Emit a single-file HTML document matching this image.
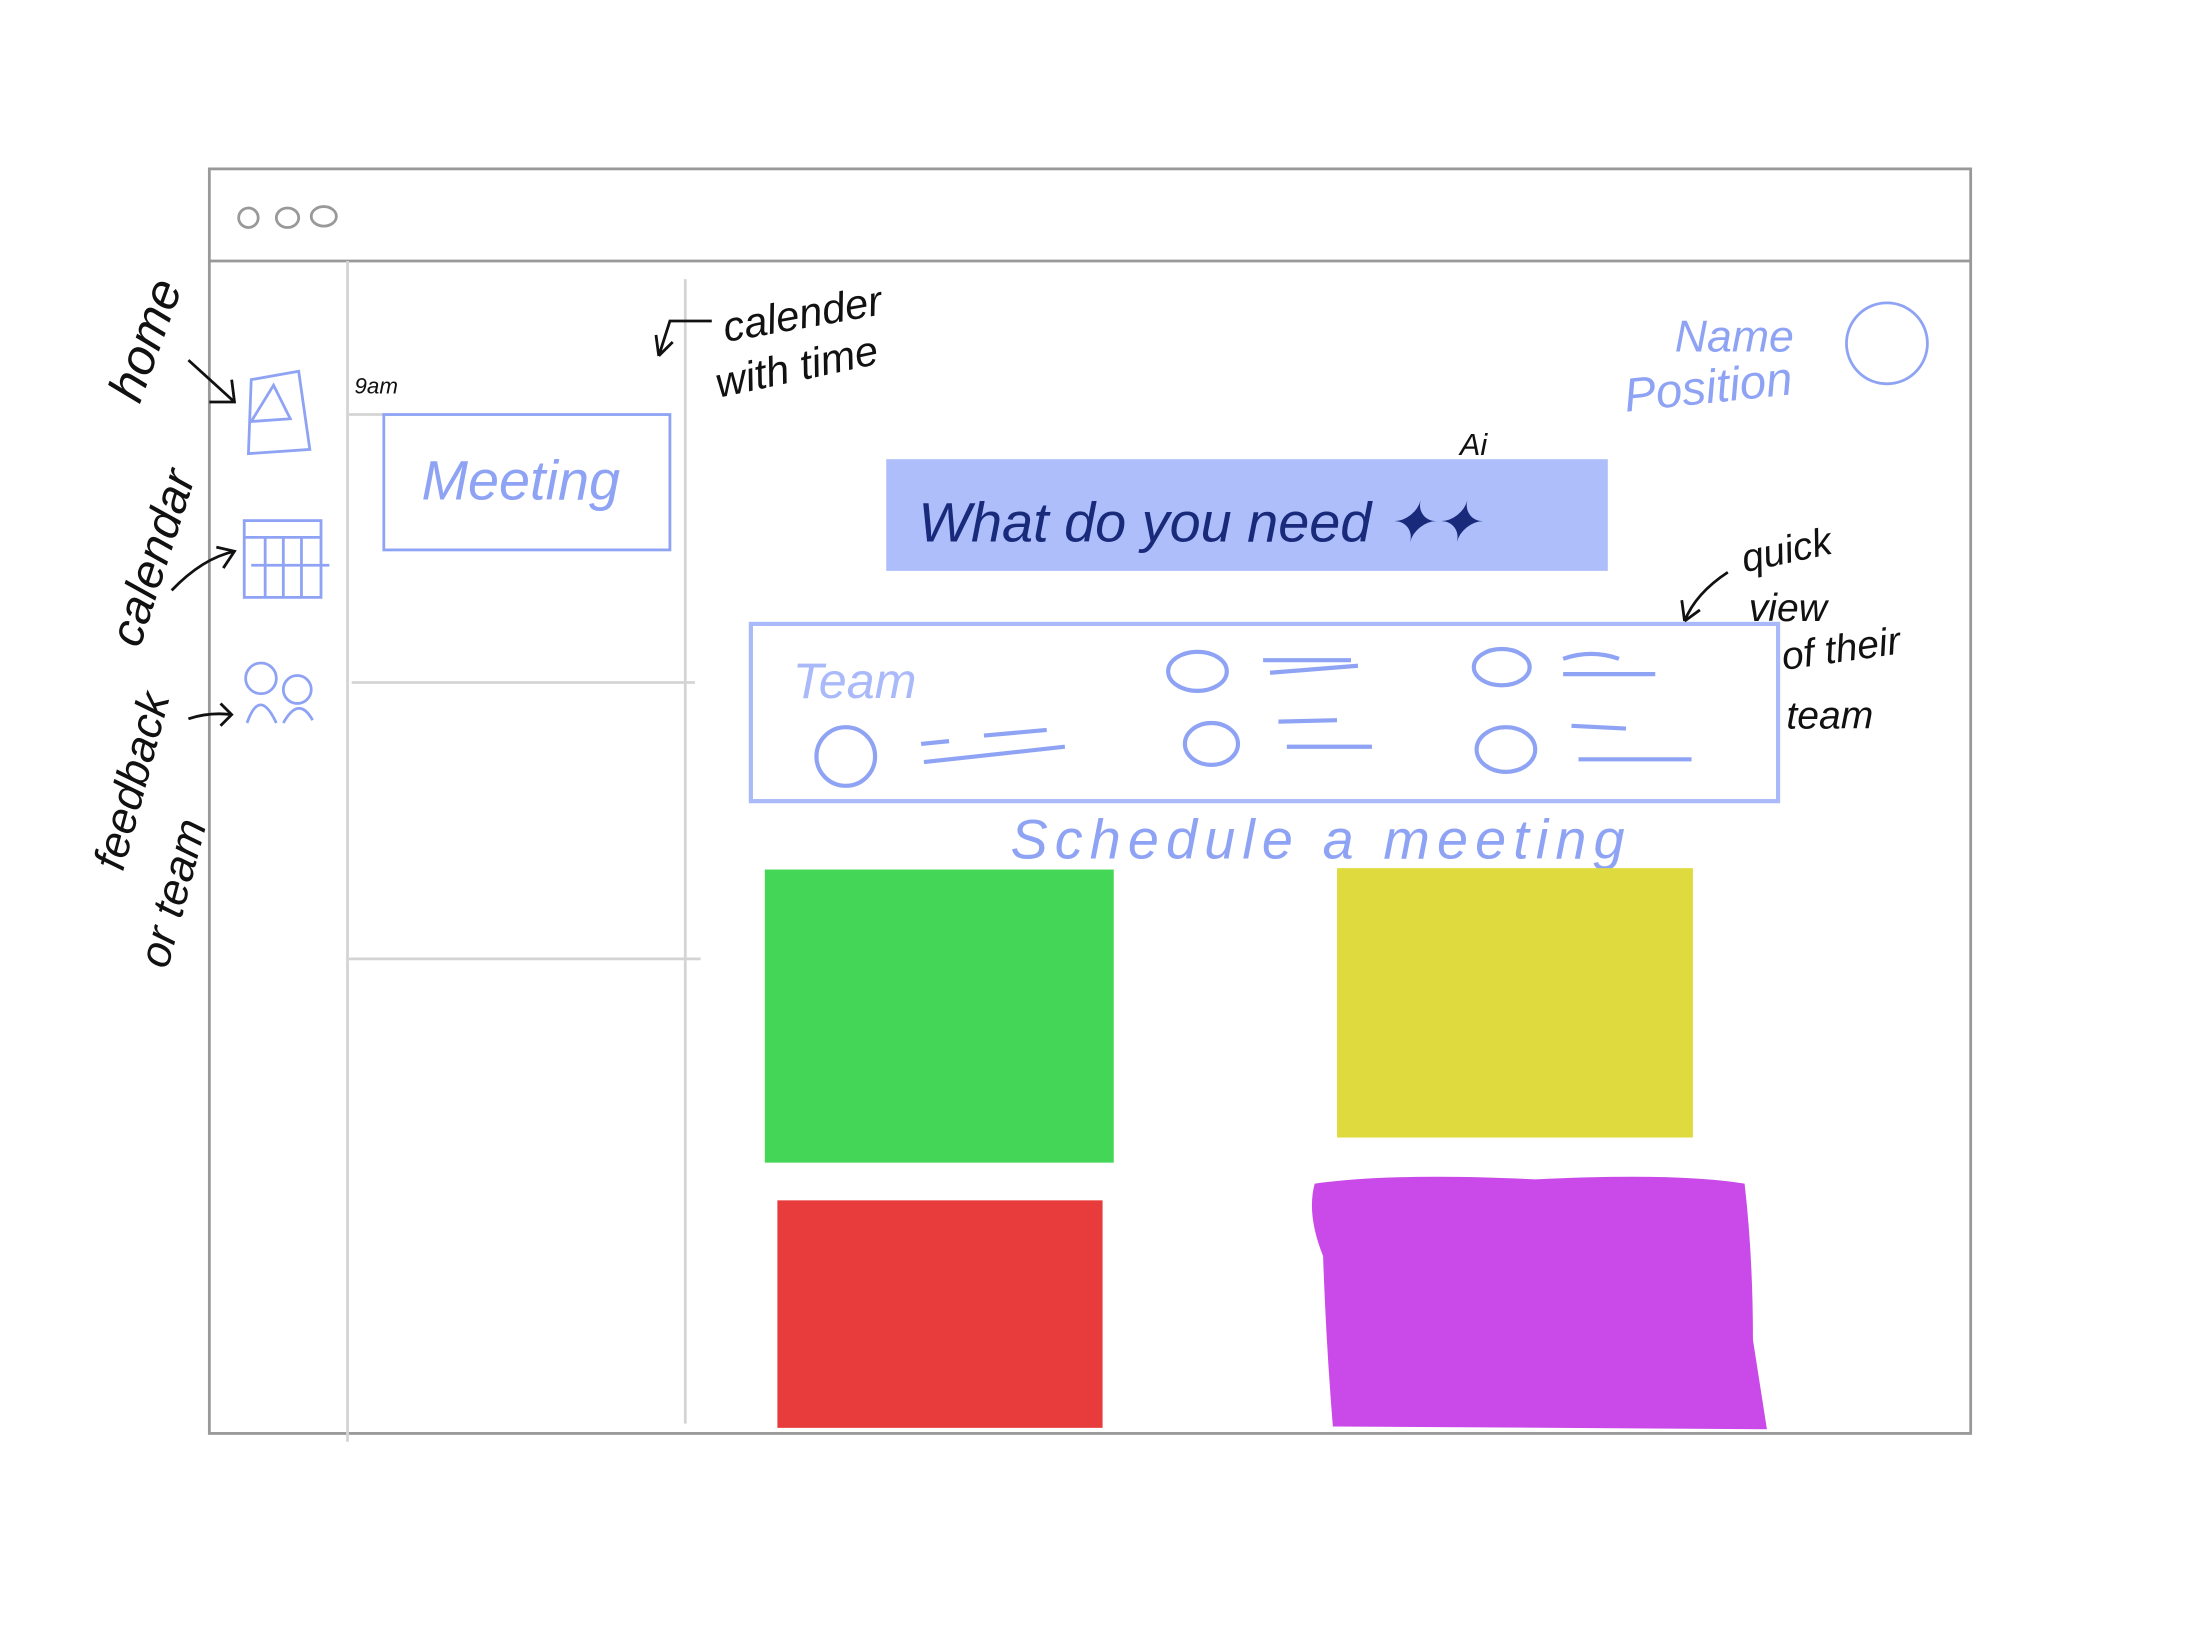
<!DOCTYPE html>
<html><head><meta charset="utf-8"><style>
html,body{margin:0;padding:0;background:#fff;}
svg{display:block}
text{font-family:"Liberation Sans",sans-serif;font-style:italic}
</style></head><body>
<svg width="2187" height="1640" viewBox="0 0 1567 1175" preserveAspectRatio="none" xmlns="http://www.w3.org/2000/svg">
<rect width="1600" height="1200" fill="#fff"/>
<rect x="150" y="121" width="1262" height="906" fill="none" stroke="#999" stroke-width="2"/>
<line x1="150" y1="187" x2="1412" y2="187" stroke="#999" stroke-width="2"/>
<circle cx="178" cy="156" r="7" fill="none" stroke="#999" stroke-width="2"/>
<ellipse cx="206" cy="156" rx="8" ry="7" fill="none" stroke="#999" stroke-width="2"/>
<ellipse cx="232" cy="155" rx="9" ry="7" fill="none" stroke="#999" stroke-width="2"/>
<line x1="249" y1="187" x2="249" y2="1033" stroke="#d4d4d4" stroke-width="2"/>
<line x1="491" y1="200" x2="491" y2="1020" stroke="#d4d4d4" stroke-width="2"/>
<line x1="252" y1="489" x2="498" y2="489" stroke="#d4d4d4" stroke-width="2"/>
<line x1="250" y1="687" x2="502" y2="687" stroke="#d4d4d4" stroke-width="2"/>
<line x1="250" y1="297" x2="275" y2="297" stroke="#d4d4d4" stroke-width="2"/>
<rect x="275" y="297" width="205" height="97" fill="none" stroke="#8fa3f5" stroke-width="2"/>
<text x="302" y="358" font-size="40" fill="#8fa3f5">Meeting</text>
<text x="254" y="282" font-size="16" fill="#111">9am</text>
<g fill="none" stroke="#8fa3f5" stroke-width="2">
<path d="M180,272 L214,266 L222,322 L178,325 Z"/>
<path d="M180,302 L196,276 L208,300 Z"/>
<rect x="175" y="373" width="55" height="55"/>
<line x1="175" y1="385" x2="230" y2="385"/>
<line x1="190" y1="385" x2="190" y2="428"/><line x1="203" y1="385" x2="203" y2="428"/><line x1="216" y1="385" x2="216" y2="428"/>
<line x1="180" y1="405" x2="236" y2="405"/>
<circle cx="187" cy="486" r="11"/><path d="M177,518 Q186,492 198,518"/>
<circle cx="213" cy="494" r="10"/><path d="M203,518 Q214,498 224,516"/>
</g>
<rect x="635" y="329" width="517" height="80" fill="#adbefb"/>
<text x="658" y="388" font-size="40" fill="#1a2a7a">What do you need ✦✦</text>
<text x="1046" y="326" font-size="22" fill="#111">Ai</text>
<rect x="538" y="447" width="736" height="127" fill="none" stroke="#a9b9fa" stroke-width="3"/>
<text x="568" y="500" font-size="36" fill="#a9b9fa">Team</text>
<g fill="none" stroke="#8fa3f5" stroke-width="3">
<ellipse cx="858" cy="481" rx="21" ry="14"/><line x1="905" y1="473" x2="968" y2="473"/><line x1="910" y1="482" x2="973" y2="477"/>
<ellipse cx="1076" cy="478" rx="20" ry="13"/><path d="M1120,472 Q1140,465 1160,472"/><line x1="1120" y1="483" x2="1186" y2="483"/>
<circle cx="606" cy="542" r="21"/><line x1="660" y1="533" x2="680" y2="531"/><line x1="705" y1="527" x2="750" y2="523"/><line x1="662" y1="546" x2="763" y2="535"/>
<ellipse cx="868" cy="533" rx="19" ry="15"/><line x1="916" y1="517" x2="958" y2="516"/><line x1="922" y1="535" x2="983" y2="535"/>
<ellipse cx="1079" cy="537" rx="21" ry="16"/><line x1="1126" y1="520" x2="1165" y2="522"/><line x1="1131" y1="544" x2="1212" y2="544"/>
</g>
<text x="724" y="615" font-size="40" fill="#8fa3f5" textLength="440">Schedule a meeting</text>
<text x="1200" y="252" font-size="32" fill="#8fa3f5">Name</text>
<text x="1165" y="295" font-size="34" fill="#8fa3f5" transform="rotate(-6 1165 295)">Position</text>
<circle cx="1352" cy="246" r="29" fill="none" stroke="#8fa3f5" stroke-width="2"/>
<rect x="548" y="623" width="250" height="210" fill="#44d656"/>
<rect x="958" y="622" width="255" height="193" fill="#dfdb3e"/>
<rect x="557" y="860" width="233" height="163" fill="#e83b3b"/>
<path d="M942,848 Q1000,840 1100,845 Q1200,840 1250,848 Q1256,900 1256,960 L1266,1024 L955,1022 Q950,960 948,900 Q936,870 942,848 Z" fill="#c94ae8"/>
<g fill="#111">
<text x="0" y="0" font-size="36" transform="translate(100,290) rotate(-70)">home</text>
<text x="0" y="0" font-size="34" transform="translate(100,465) rotate(-72)">calendar</text>
<text x="0" y="0" font-size="32" transform="translate(88,625) rotate(-75)">feedback</text>
<text x="0" y="0" font-size="32" transform="translate(120,695) rotate(-75)">or team</text>
<text x="520" y="245" font-size="30" transform="rotate(-10 520 245)">calender</text>
<text x="515" y="285" font-size="30" transform="rotate(-12 515 285)">with time</text>
<text x="1250" y="410" font-size="28" transform="rotate(-12 1250 410)">quick</text>
<text x="1253" y="445" font-size="28">view</text>
<text x="1278" y="480" font-size="28" transform="rotate(-8 1278 480)">of their</text>
<text x="1280" y="522" font-size="28">team</text>
</g>
<g fill="none" stroke="#111" stroke-width="2">
<path d="M135,258 L168,288 M150,288 L168,288 L166,272"/>
<path d="M123,423 Q145,400 168,395 M155,392 L168,395 L160,407"/>
<path d="M135,515 Q150,510 166,512 M158,504 L166,512 L158,520"/>
<path d="M510,230 L480,230 L472,255 M472,255 L470,240 M472,255 L482,245"/>
<path d="M1238,410 Q1215,425 1207,445 M1207,445 L1205,430 M1207,445 L1218,437"/>
</g>
</svg>
</body></html>
